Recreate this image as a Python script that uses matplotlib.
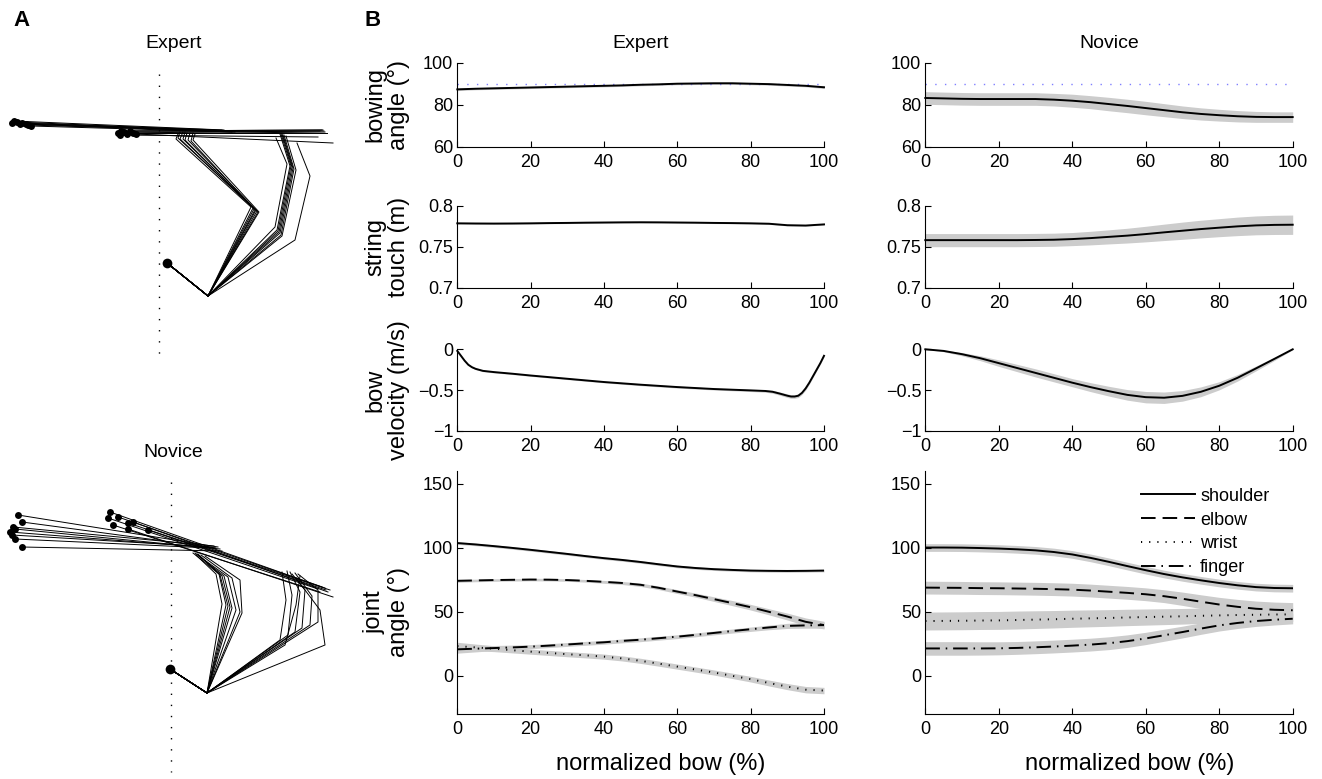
import matplotlib
matplotlib.use('Agg')
import matplotlib.pyplot as plt
from matplotlib.lines import Line2D

plt.rcParams['font.family'] = ['Liberation Sans', 'DejaVu Sans']

W, H = 1322, 779

# ---------------- data: panel B (normalized bow %) ----------------
x = [0, 5, 10, 15, 20, 25, 30, 35, 40, 45, 50, 55, 60, 65, 70, 75, 80, 85, 90, 95, 100]

exp_bow = [87.3, 87.6, 87.8, 88.0, 88.2, 88.4, 88.6, 88.8, 89.0, 89.2, 89.5, 89.7, 90.0,
           90.1, 90.2, 90.2, 90.0, 89.8, 89.4, 89.0, 88.3]
exp_bow_sd = [0.6, 0.5, 0.5, 0.5, 0.5, 0.5, 0.5, 0.5, 0.5, 0.5, 0.5, 0.5, 0.5,
              0.5, 0.5, 0.5, 0.5, 0.5, 0.5, 0.5, 0.6]
nov_bow = [83.2, 83.0, 82.8, 82.7, 82.7, 82.7, 82.7, 82.4, 81.9, 81.2, 80.3, 79.4, 78.4,
           77.4, 76.4, 75.6, 75.0, 74.5, 74.2, 74.1, 74.1]
nov_bow_sd = [3.0, 3.0, 3.0, 3.0, 3.0, 3.0, 3.0, 3.0, 3.1, 3.1, 3.2, 3.2, 3.2,
              3.1, 3.0, 2.9, 2.8, 2.7, 2.6, 2.5, 2.5]
bow_ref = [90, 90]

exp_str = [0.7785, 0.7783, 0.7782, 0.7783, 0.7785, 0.7788, 0.7790, 0.7793, 0.7795, 0.7797,
           0.7798, 0.7797, 0.7795, 0.7793, 0.7790, 0.7788, 0.7785, 0.7780, 0.7762, 0.7758, 0.7772]
exp_str_sd = [0.0008] * 21
nov_str = [0.7580, 0.7580, 0.7580, 0.7580, 0.7580, 0.7580, 0.7582, 0.7585, 0.7593, 0.7605,
           0.7620, 0.7635, 0.7654, 0.7675, 0.7695, 0.7715, 0.7732, 0.7748, 0.7760, 0.7766, 0.7768]
nov_str_sd = [0.0080, 0.0080, 0.0080, 0.0080, 0.0080, 0.0080, 0.0080, 0.0080, 0.0080, 0.0083,
              0.0086, 0.0090, 0.0095, 0.0100, 0.0105, 0.0108, 0.0110, 0.0113, 0.0115, 0.0117, 0.0118]

x_vel_exp = [0, 1, 2, 3, 4, 5, 7, 10, 15, 20, 30, 40, 50, 60, 70, 80, 84, 86, 88, 90,
             91, 92, 93, 94, 95, 96, 97, 98, 99, 100]
exp_vel = [-0.02, -0.08, -0.14, -0.19, -0.22, -0.24, -0.265, -0.28, -0.30, -0.322, -0.362,
           -0.402, -0.435, -0.464, -0.488, -0.505, -0.512, -0.522, -0.545, -0.57,
           -0.58, -0.58, -0.57, -0.535, -0.48, -0.41, -0.33, -0.25, -0.17, -0.08]
exp_vel_sd = [0.005, 0.01, 0.01, 0.01, 0.01, 0.01, 0.01, 0.01, 0.01, 0.01, 0.01,
              0.01, 0.012, 0.012, 0.012, 0.014, 0.016, 0.018, 0.02, 0.022,
              0.022, 0.022, 0.022, 0.02, 0.02, 0.018, 0.016, 0.014, 0.012, 0.012]
nov_vel = [0.0, -0.02, -0.06, -0.11, -0.17, -0.23, -0.29, -0.35, -0.41, -0.465, -0.515,
           -0.56, -0.588, -0.595, -0.572, -0.522, -0.448, -0.35, -0.235, -0.118, 0.0]
nov_vel_sd = [0.0, 0.01, 0.02, 0.03, 0.04, 0.045, 0.05, 0.05, 0.05, 0.055, 0.06,
              0.065, 0.07, 0.07, 0.065, 0.06, 0.05, 0.04, 0.03, 0.02, 0.005]

exp_sh = [103.5, 102.4, 101.1, 99.7, 98.2, 96.6, 95.0, 93.3, 91.7, 90.3, 88.7, 86.9, 85.2,
          84.0, 83.1, 82.5, 82.0, 81.8, 81.7, 81.8, 82.0]
exp_sh_sd = [1.0] * 21
exp_el = [74.0, 74.3, 74.6, 74.8, 75.0, 74.9, 74.6, 74.0, 73.2, 72.3, 70.9, 68.5, 65.6,
          62.8, 59.7, 56.6, 53.4, 49.8, 46.1, 42.0, 39.4]
exp_el_sd = [1.2, 1.0, 1.0, 1.0, 1.0, 1.0, 1.0, 1.0, 1.1, 1.2, 1.3, 1.4, 1.5,
             1.6, 1.8, 2.0, 2.2, 2.4, 2.7, 3.0, 3.0]
exp_wr = [23.0, 22.0, 21.0, 19.8, 18.7, 17.7, 16.7, 15.8, 14.8, 13.4, 11.5, 9.3, 7.0,
          4.7, 2.4, -0.2, -2.8, -5.8, -8.6, -11.0, -11.7]
exp_wr_sd = [3.0, 2.6, 2.3, 2.1, 2.0, 2.0, 2.0, 2.0, 2.0, 2.0, 2.0, 2.0, 2.0,
             2.0, 2.0, 2.1, 2.2, 2.3, 2.4, 2.5, 2.5]
exp_fi = [20.5, 21.0, 21.5, 22.0, 22.6, 23.4, 24.3, 25.2, 26.0, 27.1, 28.0, 29.2, 30.4,
          31.8, 33.3, 34.8, 36.2, 37.6, 38.8, 39.2, 39.4]
exp_fi_sd = [3.0, 2.5, 2.0, 1.8, 1.6, 1.5, 1.5, 1.5, 1.5, 1.5, 1.5, 1.5, 1.5,
             1.5, 1.5, 1.6, 1.7, 1.8, 2.0, 2.2, 2.4]

nov_sh = [100.0, 100.0, 99.9, 99.6, 99.2, 98.6, 97.8, 96.5, 94.6, 91.9, 88.8, 85.5, 82.3,
          79.3, 76.7, 74.4, 72.3, 70.5, 69.1, 68.4, 68.2]
nov_sh_sd = [3.0] * 21
nov_el = [68.7, 68.6, 68.5, 68.3, 68.2, 68.0, 67.8, 67.5, 67.1, 66.4, 65.5, 64.6, 63.5,
          62.0, 60.0, 57.7, 55.5, 53.7, 52.2, 51.4, 51.0]
nov_el_sd = [5.0, 5.0, 5.0, 5.0, 5.0, 5.0, 5.0, 5.0, 5.0, 5.0, 5.0, 5.0, 5.0,
             5.0, 5.2, 5.4, 5.6, 5.8, 6.0, 6.0, 6.0]
nov_wr = [42.6, 42.7, 42.8, 43.0, 43.1, 43.4, 43.7, 44.0, 44.4, 44.7, 45.0, 45.4, 45.7,
          46.0, 46.3, 46.7, 47.0, 47.3, 47.5, 47.7, 47.8]
nov_wr_sd = [7.0, 7.0, 7.0, 7.0, 7.0, 7.0, 6.9, 6.8, 6.7, 6.6, 6.5, 6.4, 6.3,
             6.2, 6.1, 6.0, 5.9, 5.8, 5.7, 5.6, 5.5]
nov_fi = [21.2, 21.2, 21.2, 21.2, 21.3, 21.6, 22.1, 22.7, 23.4, 24.2, 25.3, 26.9, 29.0,
          31.5, 34.0, 36.7, 39.2, 41.1, 42.6, 43.6, 44.4]
nov_fi_sd = [5.3, 5.3, 5.3, 5.2, 5.1, 5.0, 5.0, 5.0, 5.0, 5.0, 5.0, 4.9, 4.8,
             4.7, 4.6, 4.5, 4.4, 4.3, 4.2, 4.1, 4.0]

joint_names = ['shoulder', 'elbow', 'wrist', 'finger']

# ---------------- data: panel A (top-view arm/bow sketches, figure px) ----------------
# each trial: elbow, wrist, hand, bow tip, bow frog
exp_neck = (167, 263)
exp_shoulder = (208, 296)
exp_pose1 = [
    [(256, 210), (178, 138), (180, 132), (12, 123), (222, 130)],
    [(254, 209), (180, 139), (183, 132), (14, 121), (224, 130)],
    [(257, 211), (183, 139), (185, 132), (17, 122), (226, 131)],
    [(253, 208), (185, 140), (187, 133), (20, 124), (228, 131)],
    [(258, 212), (188, 140), (190, 133), (22, 123), (230, 131)],
    [(255, 210), (191, 141), (193, 133), (26, 124), (232, 132)],
    [(251, 207), (176, 139), (178, 134), (28, 125), (220, 131)],
    [(259, 212), (193, 140), (195, 134), (31, 126), (235, 132)],
]
exp_pose2 = [
    [(277, 230), (290, 166), (280, 134), (118, 133), (320, 131)],
    [(279, 232), (292, 167), (282, 134), (121, 131), (322, 130)],
    [(280, 233), (293, 168), (283, 135), (124, 132), (324, 131)],
    [(281, 235), (294, 169), (284, 135), (127, 134), (325, 132)],
    [(278, 231), (291, 166), (281, 134), (130, 131), (323, 130)],
    [(282, 236), (296, 170), (286, 136), (133, 133), (327, 133)],
    [(275, 227), (287, 164), (276, 138), (120, 135), (318, 137)],
    [(295, 240), (310, 176), (297, 143), (136, 134), (333, 143)],
]
nov_neck = (170, 669)
nov_shoulder = (207, 693)
nov_pose1 = [
    [(222, 604), (216, 574), (196, 555), (18, 515), (218, 547)],
    [(228, 606), (220, 575), (198, 554), (22, 522), (216, 548)],
    [(232, 608), (224, 576), (195, 553), (13, 527), (214, 546)],
    [(236, 610), (228, 577), (199, 556), (15, 529), (220, 549)],
    [(240, 612), (232, 578), (201, 555), (12, 535), (212, 547)],
    [(226, 605), (219, 574), (193, 553), (15, 539), (210, 548)],
    [(242, 613), (240, 580), (205, 556), (22, 547), (222, 551)],
    [(230, 607), (222, 576), (197, 554), (10, 532), (215, 548)],
]
nov_pose2 = [
    [(280, 640), (286, 600), (282, 572), (110, 512), (322, 587)],
    [(288, 635), (292, 595), (287, 571), (108, 518), (318, 589)],
    [(295, 632), (300, 592), (290, 572), (118, 517), (325, 588)],
    [(302, 628), (305, 590), (292, 574), (113, 525), (320, 592)],
    [(310, 625), (312, 596), (295, 573), (128, 523), (330, 590)],
    [(318, 622), (318, 590), (298, 574), (133, 522), (328, 592)],
    [(325, 645), (320, 610), (296, 578), (128, 529), (333, 597)],
    [(285, 645), (296, 605), (300, 576), (148, 530), (326, 590)],
]
exp_midline_x, exp_midline_y = 159, (74, 362)
nov_midline_x, nov_midline_y = 171, (482, 772)

# ---------------- figure ----------------
fig = plt.figure(figsize=(W / 100, H / 100), dpi=100)


def rect(l, t, r, b):
    return [l / W, 1 - b / H, (r - l) / W, (b - t) / H]


# Panel A
axA = fig.add_axes([0, 0, 370 / W, 1])
axA.set_xlim(0, 370)
axA.set_ylim(H, 0)
axA.axis('off')


def draw_sketch(neck, shoulder, poses, midx, midy):
    axA.plot([midx, midx], list(midy), color='black', lw=1.0,
             linestyle=(0, (1, 7)))
    for pose in poses:
        for el, wr, hd, tip, frog in pose:
            xs = [neck[0], shoulder[0], el[0], wr[0], hd[0]]
            ys = [neck[1], shoulder[1], el[1], wr[1], hd[1]]
            axA.plot(xs, ys, color='black', lw=0.7)
            axA.plot([tip[0], frog[0]], [tip[1], frog[1]], color='black', lw=0.7)
            axA.plot([tip[0]], [tip[1]], 'o', color='black', ms=5.0, mew=0)
    axA.plot([neck[0]], [neck[1]], 'o', color='black', ms=7, mew=0)


draw_sketch(exp_neck, exp_shoulder, [exp_pose1, exp_pose2], exp_midline_x, exp_midline_y)
draw_sketch(nov_neck, nov_shoulder, [nov_pose1, nov_pose2], nov_midline_x, nov_midline_y)

fig.text(21 / W, 1 - 20 / H, 'A', fontsize=16, fontweight='bold', ha='center', va='center')
fig.text(373 / W, 1 - 20 / H, 'B', fontsize=16, fontweight='bold', ha='center', va='center')
fig.text(174 / W, 1 - 43 / H, 'Expert', fontsize=14, ha='center', va='center')
fig.text(173 / W, 1 - 453 / H, 'Novice', fontsize=14, ha='center', va='center')
fig.text(640.5 / W, 1 - 43 / H, 'Expert', fontsize=14, ha='center', va='center')
fig.text(1109 / W, 1 - 43 / H, 'Novice', fontsize=14, ha='center', va='center')

cols = [(457.3, 824.0), (925.3, 1292.7)]
rows = [(62.7, 146.7), (205.7, 287.7), (349.3, 430.7), (470.7, 714.0)]

LW = 1.4
BAND = '#cccccc'
styles = {
    'shoulder': '-',
    'elbow': (0, (7.5, 3.6)),
    'wrist': (0, (0.6, 3.6)),
    'finger': (0, (7.5, 3.0, 0.8, 3.0)),
}


def style_axes(ax, ylim, yticks, yticklabels):
    ax.set_xlim(0, 100)
    ax.set_ylim(*ylim)
    ax.set_xticks([0, 20, 40, 60, 80, 100])
    ax.set_yticks(yticks)
    ax.set_yticklabels(yticklabels)
    for s in ['top', 'right']:
        ax.spines[s].set_visible(False)
    for s in ['left', 'bottom']:
        ax.spines[s].set_linewidth(0.8)
        ax.spines[s].set_color('black')
    ax.tick_params(direction='in', length=4, width=0.8, labelsize=13, colors='black')
    ax.tick_params(axis='x', pad=5)
    ax.tick_params(axis='y', pad=3)
    ax.patch.set_alpha(0)


def band(ax, xs, m, sd):
    lo = [a - b for a, b in zip(m, sd)]
    hi = [a + b for a, b in zip(m, sd)]
    ax.fill_between(xs, lo, hi, color=BAND, lw=0)


axes = {}
for ci, (l, r) in enumerate(cols):
    for ri, (t, b) in enumerate(rows):
        axes[(ri, ci)] = fig.add_axes(rect(l, t, r, b))

# Row 1: bowing angle
for ci, (m, sd) in enumerate([(exp_bow, exp_bow_sd), (nov_bow, nov_bow_sd)]):
    ax = axes[(0, ci)]
    band(ax, x, m, sd)
    ax.plot([0, 100], bow_ref, color='#7f7fff', lw=1.0, linestyle=(0, (1, 6)))
    ax.plot(x, m, color='black', lw=LW, clip_on=False)
    style_axes(ax, (60, 100), [60, 80, 100], ['60', '80', '100'])

# Row 2: string touch
for ci, (m, sd) in enumerate([(exp_str, exp_str_sd), (nov_str, nov_str_sd)]):
    ax = axes[(1, ci)]
    band(ax, x, m, sd)
    ax.plot(x, m, color='black', lw=LW, clip_on=False)
    style_axes(ax, (0.7, 0.8), [0.7, 0.75, 0.8], ['0.7', '0.75', '0.8'])

# Row 3: bow velocity
for ci, (xs, m, sd) in enumerate([(x_vel_exp, exp_vel, exp_vel_sd), (x, nov_vel, nov_vel_sd)]):
    ax = axes[(2, ci)]
    band(ax, xs, m, sd)
    ax.plot(xs, m, color='black', lw=LW, clip_on=False)
    style_axes(ax, (-1, 0), [-1, -0.5, 0], ['\u22121', '\u22120.5', '0'])

# Row 4: joint angles
exp_joint = [(exp_sh, exp_sh_sd), (exp_el, exp_el_sd), (exp_wr, exp_wr_sd), (exp_fi, exp_fi_sd)]
nov_joint = [(nov_sh, nov_sh_sd), (nov_el, nov_el_sd), (nov_wr, nov_wr_sd), (nov_fi, nov_fi_sd)]
for ci, joints in enumerate([exp_joint, nov_joint]):
    ax = axes[(3, ci)]
    for (m, sd) in joints:
        band(ax, x, m, sd)
    for name, (m, sd) in zip(joint_names, joints):
        ax.plot(x, m, color='black', lw=LW, linestyle=styles[name])
    style_axes(ax, (-30, 160), [0, 50, 100, 150], ['0', '50', '100', '150'])
    ax.set_xlabel('normalized bow (%)', fontsize=17)
    ax.xaxis.set_label_coords(0.555, -0.16)
    ax.xaxis.label.set_va('top')

# legend
handles = [Line2D([0], [0], color='black', lw=LW, linestyle=styles[n]) for n in joint_names]
axes[(3, 1)].legend(handles, joint_names, loc='upper left', bbox_to_anchor=(0.586, 0.93),
                    frameon=False, fontsize=13, handlelength=3.0, handletextpad=0.3,
                    labelspacing=0.38, borderpad=0, borderaxespad=0)

# y labels (expert column)
ylabels = ['bowing\nangle (\u00b0)', 'string\ntouch (m)', 'bow\nvelocity (m/s)', 'joint\nangle (\u00b0)']
ypos = [0.5, 0.5, 0.5, 0.42]
for ri, (lab, yp) in enumerate(zip(ylabels, ypos)):
    ax = axes[(ri, 0)]
    ax.set_ylabel(lab, fontsize=17, linespacing=1.12)
    ax.yaxis.set_label_coords(-0.129, yp)

fig.savefig('out.png', dpi=100)
